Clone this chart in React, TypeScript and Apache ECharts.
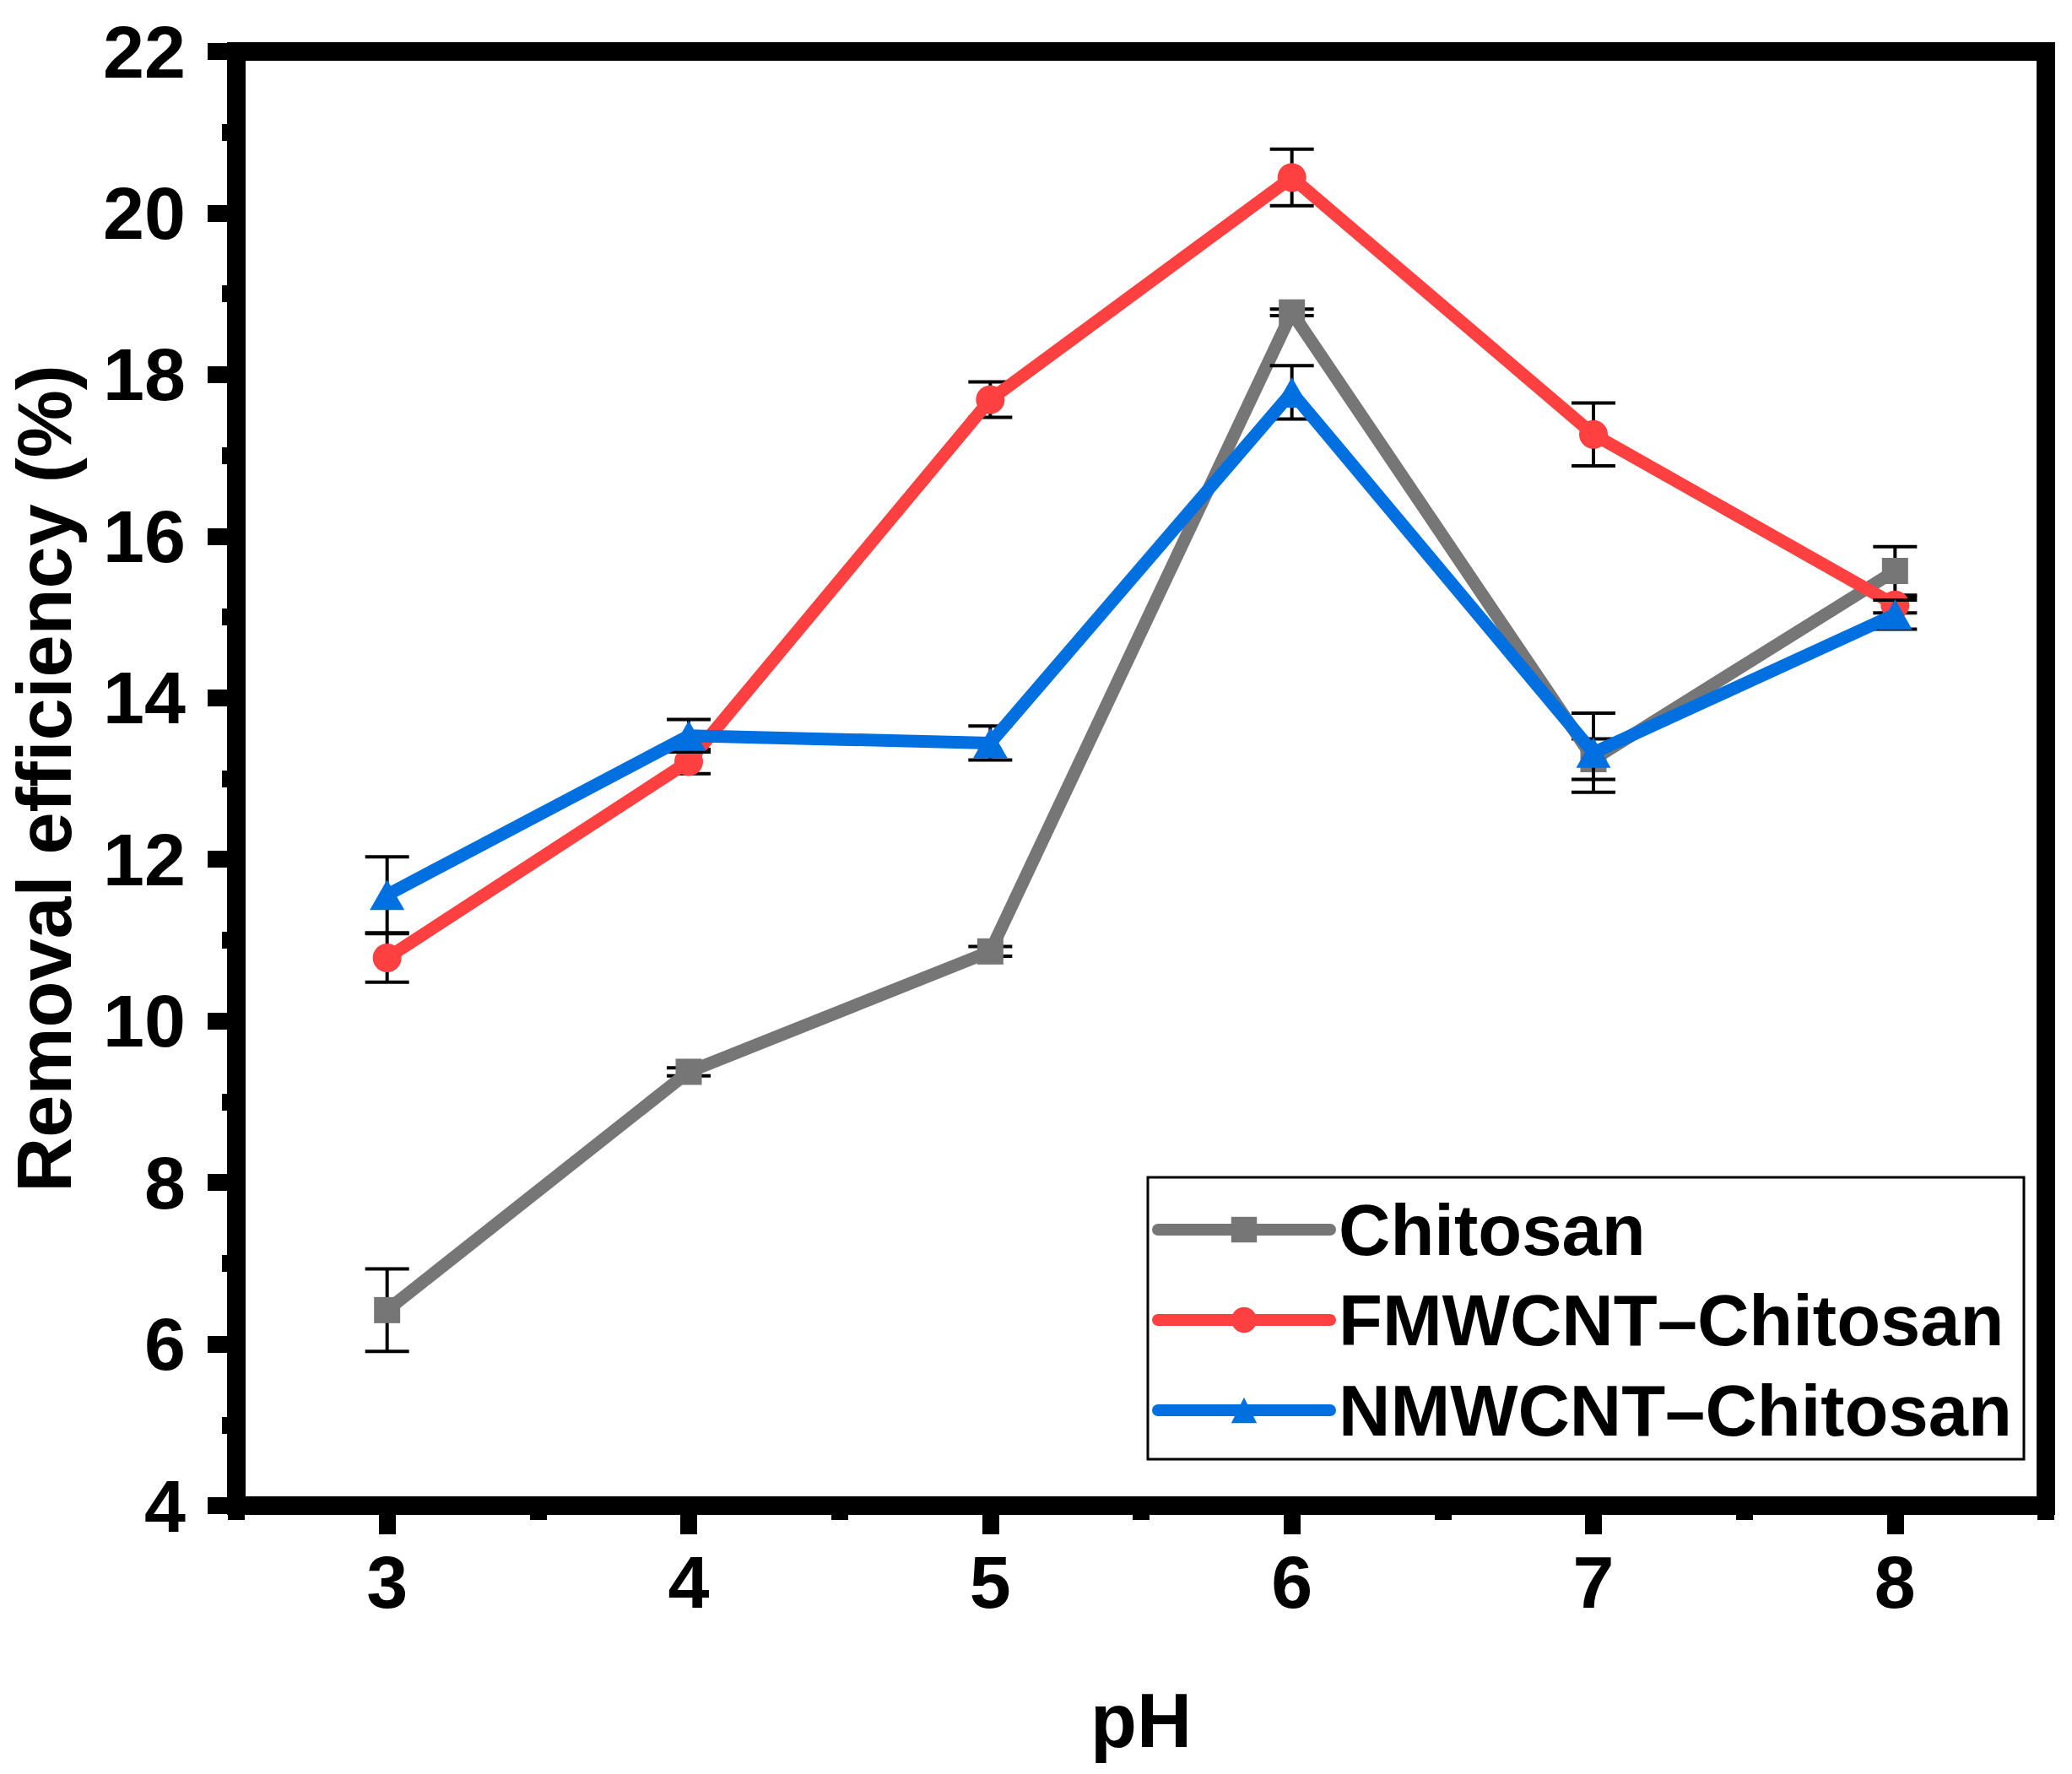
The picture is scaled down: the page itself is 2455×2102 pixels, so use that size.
import React from 'react';
import * as echarts from 'echarts';

// pH values and removal efficiency (%)
const phValues = [3, 4, 5, 6, 7, 8];
const chitosan = [6.42, 9.37, 10.86, 18.77, 13.24, 15.57];
const chitosanErr = [0.51, 0.05, 0.06, 0.04, 0.25, 0.3];
const fmwcnt = [10.78, 13.21, 17.69, 20.44, 17.26, 15.15];
const fmwcntErr = [0.3, 0.15, 0.22, 0.35, 0.39, 0.1];
const nmwcnt = [11.56, 13.53, 13.44, 17.78, 13.32, 15.03];
const nmwcntErr = [0.47, 0.2, 0.21, 0.33, 0.49, 0.18];

const xMajorTicks = [3, 4, 5, 6, 7, 8];
const xMinorTicks = [2.5, 3.5, 4.5, 5.5, 6.5, 7.5, 8.5];

const seriesNames = ['Chitosan', 'FMWCNT\u2013Chitosan', 'NMWCNT\u2013Chitosan'];
const seriesColors = ['#767676', '#ff4040', '#006fe0'];

const FONT = '"Liberation Sans", Arial, sans-serif';

const errorBars = (values: number[], errs: number[], z: number) => ({
  type: 'custom',
  z,
  silent: true,
  encode: { x: 0, y: 1 },
  data: phValues.map((x, i) => [x, values[i], errs[i]]),
  renderItem: (_params: any, api: any) => {
    const x = api.value(0);
    const y = api.value(1);
    const e = api.value(2);
    const top = api.coord([x, y + e]);
    const bot = api.coord([x, y - e]);
    const hw = 26;
    const style = { stroke: '#000', lineWidth: 4 };
    return {
      type: 'group',
      children: [
        { type: 'line', shape: { x1: top[0], y1: top[1], x2: bot[0], y2: bot[1] }, style },
        { type: 'line', shape: { x1: top[0] - hw, y1: top[1], x2: top[0] + hw, y2: top[1] }, style },
        { type: 'line', shape: { x1: bot[0] - hw, y1: bot[1], x2: bot[0] + hw, y2: bot[1] }, style },
      ],
    };
  },
});

const lineSeries = (idx: number, values: number[], symbol: string, size: any, z: number) => ({
  name: seriesNames[idx],
  type: 'line',
  z,
  data: phValues.map((x, i) => [x, values[i]]),
  symbol,
  symbolSize: size,
  showAllSymbol: true,
  color: seriesColors[idx],
  itemStyle: { color: seriesColors[idx] },
  lineStyle: { width: 15, color: seriesColors[idx], cap: 'round' },
});

export default function App() {
  const chartRef = React.useRef<HTMLDivElement>(null);

  React.useEffect(() => {
    if (!chartRef.current) return;
    document.body.style.margin = '0';

    const chart = echarts.init(chartRef.current, undefined, { renderer: 'svg' });

    const option: any = {
      animation: false,
      backgroundColor: '#fff',
      grid: {
        left: 280,
        right: 31,
        top: 61,
        bottom: 318,
        show: true,
        borderColor: '#000',
        borderWidth: 22,
        containLabel: false,
      },
      legend: {
        orient: 'vertical',
        left: 1360,
        top: 1395,
        itemWidth: 204,
        itemHeight: 38,
        itemGap: 17,
        padding: [17, 14, 13, 5],
        borderColor: '#000',
        borderWidth: 3,
        backgroundColor: '#fff',
        data: seriesNames,
        lineStyle: { width: 14, cap: 'round' },
        textStyle: {
          fontFamily: FONT,
          fontWeight: 'bold',
          fontSize: 85,
          lineHeight: 90,
          color: '#000',
          padding: [0, 0, 0, 5],
        },
      },
      xAxis: [
        {
          type: 'value',
          min: 2.5,
          max: 8.5,
          position: 'bottom',
          name: 'pH',
          nameLocation: 'middle',
          nameGap: 210,
          nameTextStyle: { fontFamily: FONT, fontWeight: 'bold', fontSize: 90, color: '#000' },
          axisLine: { show: true, lineStyle: { color: '#000', width: 22 } },
          axisTick: { show: true, customValues: xMajorTicks, length: 34, lineStyle: { color: '#000', width: 20 } },
          axisLabel: {
            customValues: xMajorTicks,
            margin: 46,
            fontFamily: FONT,
            fontWeight: 'bold',
            fontSize: 88,
            color: '#000',
          },
          splitLine: { show: false },
        },
        {
          type: 'value',
          min: 2.5,
          max: 8.5,
          position: 'bottom',
          axisLine: { show: false },
          axisTick: { show: true, customValues: xMinorTicks, length: 17, lineStyle: { color: '#000', width: 20 } },
          axisLabel: { show: false },
          splitLine: { show: false },
        },
      ],
      yAxis: {
        type: 'value',
        min: 4,
        max: 22,
        interval: 2,
        name: 'Removal efficiency (%)',
        nameLocation: 'middle',
        nameRotate: 90,
        nameGap: 182,
        nameTextStyle: { fontFamily: FONT, fontWeight: 'bold', fontSize: 90, color: '#000' },
        axisLine: { show: true, lineStyle: { color: '#000', width: 22 } },
        axisTick: { show: true, length: 34, lineStyle: { color: '#000', width: 20 } },
        minorTick: { show: true, splitNumber: 2, length: 17, lineStyle: { color: '#000', width: 20 } },
        axisLabel: {
          margin: 60,
          fontFamily: FONT,
          fontWeight: 'bold',
          fontSize: 88,
          color: '#000',
        },
        splitLine: { show: false },
        minorSplitLine: { show: false },
      },
      series: [
        errorBars(chitosan, chitosanErr, 1),
        lineSeries(0, chitosan, 'rect', 31, 2),
        errorBars(fmwcnt, fmwcntErr, 3),
        lineSeries(1, fmwcnt, 'circle', 34, 4),
        errorBars(nmwcnt, nmwcntErr, 5),
        lineSeries(2, nmwcnt, 'triangle', [41, 36], 6),
      ],
    };

    chart.setOption(option);

    return () => {
      chart.dispose();
    };
  }, []);

  return <div ref={chartRef} style={{ width: 2455, height: 2102 }} />;
}
